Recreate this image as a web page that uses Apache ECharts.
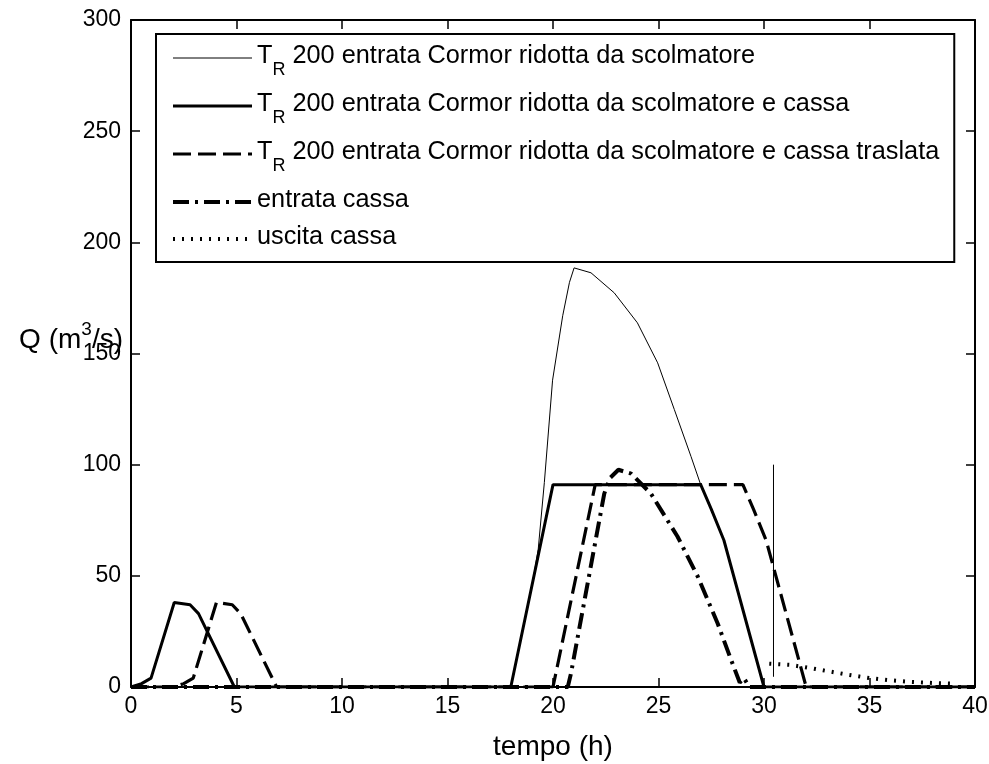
<!DOCTYPE html>
<html><head><meta charset="utf-8">
<script src="https://cdn.jsdelivr.net/npm/echarts@6/dist/echarts.min.js"></script>
<style>html,body{margin:0;padding:0;background:#fff}#c{width:989px;height:764px}</style>
</head><body><div id="c"></div>
<script>
const FONT = '"Liberation Sans", Arial, sans-serif';

const seriesNames = [
  'T_R 200 entrata Cormor ridotta da scolmatore',
  'T_R 200 entrata Cormor ridotta da scolmatore e cassa',
  'T_R 200 entrata Cormor ridotta da scolmatore e cassa traslata',
  'entrata cassa',
  'uscita cassa'
];

const xTicks = [0, 5, 10, 15, 20, 25, 30, 35, 40];
const yTicks = [0, 50, 100, 150, 200, 250, 300];

// thin line: T_R 200 entrata Cormor ridotta da scolmatore
const thinT = [0, 0.5, 0.95, 2.05, 2.8, 3.2, 4.9, 18.0, 19.0, 19.3, 19.59, 19.98, 20.46, 20.78, 21.0, 21.8, 22.9, 24.0, 24.96, 25.75, 26.54, 27.0, 27.5, 28.1, 30.0, 40];
const thinQ = [0, 1.5, 4, 38, 37, 33, 0, 0, 45, 62, 92, 138, 167, 182, 188.5, 186.3, 177.3, 163.8, 145.8, 124.8, 103.7, 91, 80, 66, 0, 0];

// thick solid: ... e cassa
const thickT = [0, 0.5, 0.95, 2.05, 2.8, 3.2, 4.9, 18.0, 20.0, 27.0, 27.5, 28.1, 30.0, 40];
const thickQ = [0, 1.5, 4, 38, 37, 33, 0, 0, 91, 91, 80, 66, 0, 0];

// dashed: ... e cassa traslata
const trasT = [0, 2.0, 2.5, 2.95, 4.05, 4.8, 5.2, 6.9, 20.0, 22.0, 29.0, 29.5, 30.1, 32.0, 40];
const trasQ = [0, 0, 1.5, 4, 38, 37, 33, 0, 0, 91, 91, 80, 66, 0, 0];

// dash-dot: entrata cassa
const entT = [0, 20.7, 20.85, 22.43, 22.7, 23.1, 23.7, 24.64, 25.9, 26.86, 27.8, 28.44, 28.85, 29.05, 29.3, 40];
const entQ = [0, 0, 6, 87, 94, 97.7, 96, 87, 67.7, 49.7, 28.7, 12.2, 2, 4, 0, 0];

// dotted: uscita cassa
const uscT = [30.25, 31.2, 32.2, 33.1, 34.0, 35.0, 36.0, 37.0, 38.0, 39.0];
const uscQ = [10.5, 10, 8.5, 7, 5.5, 4, 3, 2.3, 1.8, 1.5];

// thin vertical stroke near t = 30.45
const markT = [30.45, 30.45];
const markQ = [4.6, 100];

const zip = (a, b) => a.map((v, i) => [v, b[i]]);

const styles = [
  { width: 1, type: 'solid' },
  { width: 3, type: 'solid' },
  { width: 3.2, type: [18, 7] },
  { width: 4, type: [16, 6, 3, 6] },
  { width: 4, type: [2, 7] }
];
const datas = [zip(thinT, thinQ), zip(thickT, thickQ), zip(trasT, trasQ), zip(entT, entQ), zip(uscT, uscQ)];

const series = seriesNames.map((n, i) => ({
  name: n, type: 'line', data: datas[i], symbol: 'none', showSymbol: false,
  lineStyle: { color: '#000', width: styles[i].width, type: styles[i].type, cap: 'butt' },
  itemStyle: { color: '#000' }, z: 3
}));
series.push({
  name: 'marker', type: 'line', data: zip(markT, markQ), symbol: 'none',
  lineStyle: { color: '#000', width: 1 }, z: 3
});

const axisLineStyle = { show: true, onZero: false, lineStyle: { color: '#000', width: 2 } };
const tickStyle = { show: true, inside: true, length: 9, lineStyle: { color: '#000', width: 1.5 } };

const chart = echarts.init(document.getElementById('c'));
chart.setOption({
  animation: false,
  backgroundColor: '#fff',
  grid: { left: 131, right: 14, top: 20, bottom: 77, outerBoundsMode: 'none', containLabel: false },
  legend: {
    orient: 'vertical', left: 156, top: 34,
    padding: [10, 15, 12, 15], itemGap: 12, itemWidth: 79, itemHeight: 12,
    borderColor: '#000', borderWidth: 2, backgroundColor: '#fff',
    selectedMode: false,
    itemStyle: { opacity: 0, color: 'rgba(0,0,0,0)', borderWidth: 0 },
    data: seriesNames.map((n, i) => ({
      name: n,
      itemStyle: { opacity: 0, color: 'rgba(0,0,0,0)', borderWidth: 0 },
      lineStyle: { width: styles[i].width, type: styles[i].type, color: '#000', cap: 'butt' }
    })),
    formatter: function (name) {
      if (name.indexOf('T_R') === 0) {
        return '{n|T}{s|R}{n|' + name.slice(3) + '}';
      }
      return '{n|' + name + '}';
    },
    textStyle: {
      color: '#000', fontFamily: FONT, fontSize: 25.3,
      rich: {
        n: { fontFamily: FONT, fontSize: 25.3, lineHeight: 28, color: '#000', verticalAlign: 'top' },
        s: { fontFamily: FONT, fontSize: 18, lineHeight: 20, color: '#000', verticalAlign: 'top', padding: [17, 0, 1, 0] }
      }
    }
  },
  xAxis: [
    {
      type: 'value', min: xTicks[0], max: xTicks[xTicks.length - 1], interval: 5, position: 'bottom',
      axisLine: axisLineStyle, axisTick: tickStyle, splitLine: { show: false },
      axisLabel: { color: '#000', fontFamily: FONT, fontSize: 23, margin: 8 },
      name: 'tempo (h)', nameLocation: 'middle', nameGap: 46, nameMoveOverlap: false,
      nameTextStyle: { color: '#000', fontFamily: FONT, fontSize: 28 }
    },
    {
      type: 'value', min: xTicks[0], max: xTicks[xTicks.length - 1], interval: 5, position: 'top',
      axisLine: axisLineStyle, axisTick: tickStyle, splitLine: { show: false }, axisLabel: { show: false }
    }
  ],
  yAxis: [
    {
      type: 'value', min: yTicks[0], max: yTicks[yTicks.length - 1], interval: 50, position: 'left',
      axisLine: axisLineStyle, axisTick: tickStyle, splitLine: { show: false },
      axisLabel: { color: '#000', fontFamily: FONT, fontSize: 23, margin: 10 },
      name: '{n|Q (m}{p|3}{n|/s)}', nameLocation: 'middle', nameRotate: 0, nameGap: 8, nameMoveOverlap: false,
      nameTextStyle: {
        color: '#000', fontFamily: FONT, fontSize: 28, padding: [0, 0, 32, 0],
        rich: {
          n: { fontFamily: FONT, fontSize: 28, lineHeight: 34, color: '#000', verticalAlign: 'bottom' },
          p: { fontFamily: FONT, fontSize: 19, lineHeight: 19, color: '#000', verticalAlign: 'top' }
        }
      }
    },
    {
      type: 'value', min: yTicks[0], max: yTicks[yTicks.length - 1], interval: 50, position: 'right',
      axisLine: axisLineStyle, axisTick: tickStyle, splitLine: { show: false }, axisLabel: { show: false }
    }
  ],
  series: series
});
</script></body></html>
